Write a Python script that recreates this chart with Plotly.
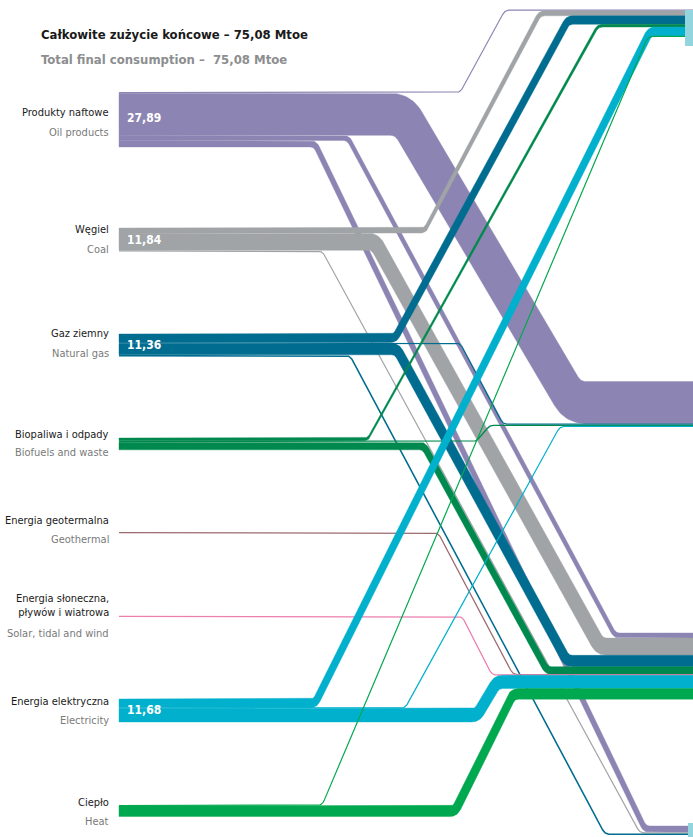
import numpy as np
import plotly.graph_objects as go

# ---------------- data ----------------
title_pl = "Całkowite zużycie końcowe – 75,08 Mtoe"
title_en = "Total final consumption –  75,08 Mtoe"

source_pl = ["Produkty naftowe", "Węgiel", "Gaz ziemny", "Biopaliwa i odpady",
             "Energia geotermalna", "Energia słoneczna,<br>pływów i wiatrowa",
             "Energia elektryczna", "Ciepło"]
source_en = ["Oil products", "Coal", "Natural gas", "Biofuels and waste",
             "Geothermal", "Solar, tidal and wind", "Electricity", "Heat"]
source_value = [27.89, 11.84, 11.36, 6.00, 0.15, 0.30, 11.68, 5.86]
source_value_shown = [True, True, True, False, False, False, True, False]

target_keys = ["industry", "transport", "other", "non_energy"]

flow_source = [0, 0, 0, 0, 1, 1, 1, 2, 2, 2, 2, 3, 3, 3, 4, 5, 6, 6, 6, 7, 7]
flow_target = [0, 1, 2, 3, 0, 2, 3, 0, 1, 2, 3, 0, 1, 2, 2, 2, 0, 1, 2, 0, 2]
flow_value = [0.6, 21.4, 2.6, 3.29,
              2.6, 8.74, 0.5,
              4.3, 0.5, 5.76, 0.8,
              1.4, 0.7, 3.9,
              0.15,
              0.3,
              4.5, 0.4, 6.78,
              0.5, 5.36]

# ---------------- layout / style ----------------
W, H = 693, 837
PX_PER_MTOE = 1.97
BAR_X = 119
RIGHT_X = 705
ALPHA = 0.35  # mix between vertical and perpendicular band thickness

source_top = [92, 228, 334, 438, 532.5, 616, 699, 805]
label_pl_y = [112, 229, 333, 434, 520, 605, 701, 802]
label_en_y = [132, 249, 353, 452, 539, 633, 720, 821]
value_label_y = [118, 240, 345, None, None, None, 710, None]
target_top = [9.5, 381.5, 633, 826]
flow_bend = [(460, 505), (403, 573), (348, 615), (315, 645),
             (425, 540), (375, 600), (322, 640),
             (395, 568), (460, 503), (397, 567), (350, 605),
             (368, 598), (476, 490), (424, 547),
             (438, 513),
             (462, 492),
             (315, 650), (405, 560), (477, 497),
             (322, 648), (455, 513)]
source_color = ["#8C85B3", "#A1A4A7", "#006D90", "#00894E",
                "#9C6B70", "#EC7FAE", "#00B0CC", "#00A84F"]
right_stubs = [dict(x0=685, x1=693, y0=10, y1=46), dict(x0=688, x1=693, y0=823, y1=837)]
stub_color = "#93D5DE"

FONT = "DejaVu Sans Condensed, Liberation Sans Narrow, Liberation Sans, sans-serif"


def centerline(ys, xa, xb, yt, w):
    pts = [np.array(p, float) for p in [(BAR_X, ys), (xa, ys), (xb, yt), (RIGHT_X, yt)]]
    out = [pts[0]]
    for i in (1, 2):
        A, P, B = pts[i - 1], pts[i], pts[i + 1]
        la, lb = np.linalg.norm(P - A), np.linalg.norm(B - P)
        d1, d2 = (P - A) / la, (B - P) / lb
        ang = np.arccos(np.clip(np.dot(d1, d2), -1, 1))
        r = max(8.0, 0.45 * w + 4)
        t = r * np.tan(ang / 2)
        t = min(t, 0.45 * la, 0.45 * lb)
        S, E = P - d1 * t, P + d2 * t
        for u in np.linspace(0, 1, 18):
            out.append((1 - u) ** 2 * S + 2 * u * (1 - u) * P + u ** 2 * E)
    out.append(pts[3])
    return np.array(out)


def band_polygon(c, w):
    n = len(c)
    tang = np.zeros_like(c)
    for i in range(n):
        a = c[max(i - 1, 0)]
        b = c[min(i + 1, n - 1)]
        d = b - a
        tang[i] = d / (np.linalg.norm(d) + 1e-9)
    normal = np.stack([-tang[:, 1], tang[:, 0]], axis=1)
    half = w / 2
    off = ALPHA * np.array([0, half]) + (1 - ALPHA) * normal * half
    up = c - off
    lo = c + off
    poly = np.vstack([up, lo[::-1], up[:1]])
    return poly[:, 0], poly[:, 1]


fig = go.Figure()

# stacking offsets
src_off = [0.0] * len(source_value)
tgt_off = [0.0] * len(target_keys)
for k in range(len(flow_value)):
    s, t, v = flow_source[k], flow_target[k], flow_value[k]
    w = v * PX_PER_MTOE
    ys = source_top[s] + src_off[s] + w / 2
    yt = target_top[t] + tgt_off[t] + w / 2
    src_off[s] += w
    tgt_off[t] += w
    xa, xb = flow_bend[k]
    c = centerline(ys, xa, xb, yt, w)
    col = source_color[s]
    if w < 2.0:
        fig.add_trace(go.Scatter(x=c[:, 0], y=c[:, 1], mode="lines",
                                 line=dict(color=col, width=max(w, 1.2)),
                                 hoverinfo="skip", showlegend=False))
    else:
        px, py = band_polygon(c, w)
        fig.add_trace(go.Scatter(x=px, y=py, mode="lines", fill="toself",
                                 fillcolor=col, line=dict(color=col, width=0.4),
                                 hoverinfo="skip", showlegend=False))

for st in right_stubs:
    fig.add_shape(type="rect", xref="x", yref="y", line=dict(width=0),
                  fillcolor=stub_color, **st)

ann = []
ann.append(dict(x=39, y=34, text="<b>" + title_pl + "</b>", xanchor="left", yanchor="middle",
                font=dict(family=FONT, size=13, color="#1A1A1A")))
ann.append(dict(x=39, y=59, text="<b>" + title_en + "</b>", xanchor="left", yanchor="middle",
                font=dict(family=FONT, size=13, color="#8C8E90")))
for i in range(len(source_pl)):
    ann.append(dict(x=111, y=label_pl_y[i], text=source_pl[i], xanchor="right", yanchor="middle",
                    align="right", font=dict(family=FONT, size=11, color="#1A1A1A")))
    ann.append(dict(x=111, y=label_en_y[i], text=source_en[i], xanchor="right", yanchor="middle",
                    align="right", font=dict(family=FONT, size=11, color="#7A7A7A")))
    if source_value_shown[i]:
        ann.append(dict(x=125, y=value_label_y[i],
                        text="<b>" + f"{source_value[i]:.2f}".replace(".", ",") + "</b>",
                        xanchor="left", yanchor="middle",
                        font=dict(family=FONT, size=12, color="white")))
for a in ann:
    a.update(xref="x", yref="y", showarrow=False)

fig.update_layout(
    width=W, height=H,
    margin=dict(l=0, r=0, t=0, b=0),
    paper_bgcolor="white", plot_bgcolor="white",
    xaxis=dict(range=[0, W], visible=False, fixedrange=True),
    yaxis=dict(range=[H, 0], visible=False, fixedrange=True),
    annotations=ann, showlegend=False, hovermode=False,
)

fig.write_html("out.html", config={"displayModeBar": False},
               post_script="document.body.style.margin='0';document.body.style.overflow='hidden';")
